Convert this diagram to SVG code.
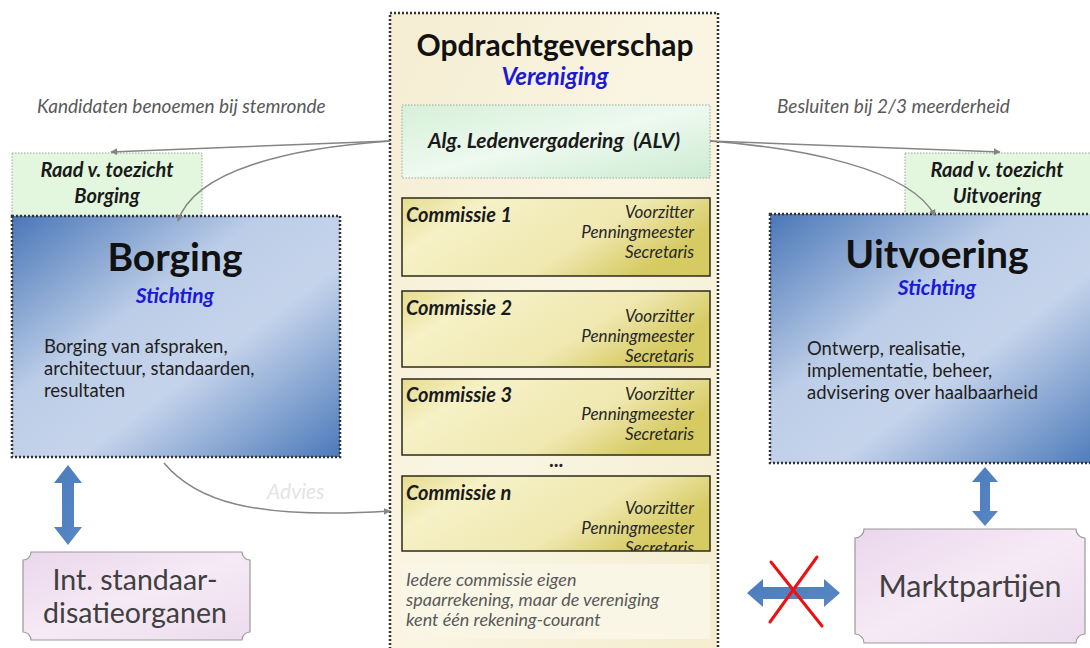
<svg xmlns="http://www.w3.org/2000/svg" width="1090" height="648" viewBox="0 0 1090 648">
<defs>
<linearGradient id="gBlue" x1="0" y1="0" x2="1" y2="1">
<stop offset="0" stop-color="#4a77b8"/><stop offset="0.38" stop-color="#bccde7"/><stop offset="0.6" stop-color="#c6d4eb"/><stop offset="1" stop-color="#4c7aba"/>
</linearGradient>
<linearGradient id="gCom" x1="0" y1="0" x2="1" y2="0.4">
<stop offset="0" stop-color="#e6dc8e"/><stop offset="0.25" stop-color="#f6f1c6"/><stop offset="0.7" stop-color="#efe8b0"/><stop offset="1" stop-color="#d6ca62"/>
</linearGradient>
<linearGradient id="gCont" x1="0" y1="0" x2="1" y2="1">
<stop offset="0" stop-color="#f5edd2"/><stop offset="0.5" stop-color="#faf5e3"/><stop offset="1" stop-color="#f4edcf"/>
</linearGradient>
<linearGradient id="gAlv" x1="0" y1="0" x2="1" y2="1">
<stop offset="0" stop-color="#d6f0d8"/><stop offset="0.5" stop-color="#eef9ef"/><stop offset="1" stop-color="#ccebd2"/>
</linearGradient>
<linearGradient id="gPink" x1="0" y1="0" x2="1" y2="1">
<stop offset="0" stop-color="#ead6ec"/><stop offset="0.5" stop-color="#f6eaf5"/><stop offset="1" stop-color="#ecdcee"/>
</linearGradient>
<linearGradient id="gArr" x1="0" y1="0" x2="1" y2="1">
<stop offset="0" stop-color="#4a7bbd"/><stop offset="1" stop-color="#5a88c4"/>
</linearGradient>
<marker id="ah" viewBox="0 0 10 10" refX="9" refY="5" markerWidth="7" markerHeight="7" orient="auto-start-reverse" markerUnits="userSpaceOnUse">
<path d="M0,0 L10,5 L0,10 z" fill="#858585"/>
</marker>
<clipPath id="clipN"><rect x="402" y="476" width="308" height="75"/></clipPath>
</defs>
<style>
.f{font-family:Lato,"Open Sans","Liberation Sans",sans-serif}
.it{font-style:italic}
.b{font-weight:bold}
.gray{fill:#595959}
.blue{fill:#1a1ad6}
.com{fill:url(#gCom);stroke:#2b2b1a;stroke-width:1.5}
.role{font-family:Lato,"Open Sans","Liberation Sans",sans-serif;font-style:italic;font-size:17px;fill:#262626;text-anchor:end}
.cname{font-family:Lato,"Open Sans","Liberation Sans",sans-serif;font-style:italic;font-weight:bold;font-size:20px;fill:#1a1a1a}
.raadt{font-family:Lato,"Open Sans","Liberation Sans",sans-serif;font-style:italic;font-weight:bold;font-size:20px;fill:#1a1a1a;text-anchor:middle}
.body{font-family:Lato,"Open Sans","Liberation Sans",sans-serif;font-size:18.5px;fill:#1f1f1f}
.conn{fill:none;stroke:#858585;stroke-width:1.5}
.dots{stroke:#333;stroke-width:2.5;stroke-dasharray:2 2}
.raad{fill:#e3f7df;stroke:#9aa99a;stroke-width:1;stroke-dasharray:1.5 1.5}
.plaque{fill:url(#gPink);stroke:#9a9a9a;stroke-width:1.2}
.barrow{fill:url(#gArr)}
.pre{white-space:pre}
</style>
<rect width="1090" height="648" fill="#ffffff"/>

<g id="opdrachtgeverschap">
<rect x="390" y="13" width="328" height="640" fill="url(#gCont)" class="dots"/>
<text x="555" y="56" text-anchor="middle" class="f b" font-size="30" fill="#111">Opdrachtgeverschap</text>
<text x="555" y="85" text-anchor="middle" class="f b it blue" font-size="24">Vereniging</text>
</g>

<g id="alv">
<rect x="402" y="105" width="308" height="73" fill="url(#gAlv)" stroke="#9aa99a" stroke-width="1" stroke-dasharray="1.5 1.5"/>
<text x="554" y="148" text-anchor="middle" class="f b it pre" font-size="21" fill="#1a1a1a">Alg. Ledenvergadering  (ALV)</text>
</g>

<g id="commissie1">
<rect x="402" y="198" width="308" height="78" class="com"/>
<text x="406" y="222" class="cname">Commissie 1</text>
<text x="694" y="218" class="role">Voorzitter</text>
<text x="694" y="238" class="role">Penningmeester</text>
<text x="694" y="258" class="role">Secretaris</text>
</g>
<g id="commissie2">
<rect x="402" y="291" width="308" height="76" class="com"/>
<text x="406" y="315" class="cname">Commissie 2</text>
<text x="694" y="322" class="role">Voorzitter</text>
<text x="694" y="342" class="role">Penningmeester</text>
<text x="694" y="362" class="role">Secretaris</text>
</g>
<g id="commissie3">
<rect x="402" y="379" width="308" height="76" class="com"/>
<text x="406" y="402" class="cname">Commissie 3</text>
<text x="694" y="400" class="role">Voorzitter</text>
<text x="694" y="420" class="role">Penningmeester</text>
<text x="694" y="440" class="role">Secretaris</text>
</g>
<g id="ellipsis">
<text x="556" y="467" text-anchor="middle" class="f b" font-size="20" fill="#222">...</text>
</g>
<g id="commissien">
<rect x="402" y="476" width="308" height="75" fill="url(#gCom)"/>
<g clip-path="url(#clipN)">
<text x="406" y="500" class="cname">Commissie n</text>
<text x="694" y="514" class="role">Voorzitter</text>
<text x="694" y="534" class="role">Penningmeester</text>
<text x="694" y="554" class="role">Secretaris</text>
</g>
<rect x="402" y="476" width="308" height="75" fill="none" stroke="#2b2b1a" stroke-width="1.5"/>
</g>

<g id="rekening">
<rect x="402" y="564" width="308" height="75" fill="#faf6e6"/>
<text class="f it gray" font-size="18">
<tspan x="406" y="586">Iedere commissie eigen</tspan>
<tspan x="406" y="606">spaarrekening, maar de vereniging</tspan>
<tspan x="406" y="626">kent één rekening-courant</tspan>
</text>
</g>

<g id="raad-borging">
<rect x="12" y="153" width="190" height="63" class="raad"/>
<text x="107" y="177" class="raadt">Raad v. toezicht</text>
<text x="107" y="203" class="raadt">Borging</text>
</g>

<g id="borging">
<rect x="12" y="216" width="328" height="241" fill="url(#gBlue)" class="dots"/>
<text x="175" y="271" text-anchor="middle" class="f b" font-size="39" fill="#111">Borging</text>
<text x="175" y="303" text-anchor="middle" class="f b it blue" font-size="21">Stichting</text>
<text class="body">
<tspan x="44" y="353">Borging van afspraken,</tspan>
<tspan x="44" y="375">architectuur, standaarden,</tspan>
<tspan x="44" y="397">resultaten</tspan>
</text>
</g>

<g id="raad-uitvoering">
<rect x="905" y="153" width="190" height="63" class="raad"/>
<text x="997" y="177" class="raadt">Raad v. toezicht</text>
<text x="997" y="203" class="raadt">Uitvoering</text>
</g>

<g id="uitvoering">
<rect x="770" y="214" width="330" height="249" fill="url(#gBlue)" class="dots"/>
<text x="937" y="268" text-anchor="middle" class="f b" font-size="39" fill="#111">Uitvoering</text>
<text x="937" y="295" text-anchor="middle" class="f b it blue" font-size="21">Stichting</text>
<text class="body">
<tspan x="807" y="355">Ontwerp, realisatie,</tspan>
<tspan x="807" y="377">implementatie, beheer,</tspan>
<tspan x="807" y="399">advisering over haalbaarheid</tspan>
</text>
</g>

<g id="standaardisatie">
<path class="plaque" d="M31,552 L242,552 A8,8 0 0 0 250,560 L250,632 A8,8 0 0 0 242,640 L31,640 A8,8 0 0 0 23,632 L23,560 A8,8 0 0 0 31,552 Z"/>
<text x="135" y="590" text-anchor="middle" class="f" font-size="28.5" fill="#404040">Int. standaar-</text>
<text x="135" y="623" text-anchor="middle" class="f" font-size="28.5" fill="#404040">disatieorganen</text>
</g>

<g id="marktpartijen">
<path class="plaque" d="M864,529 L1076,529 A9,9 0 0 0 1085,538 L1085,634 A9,9 0 0 0 1076,643 L864,643 A9,9 0 0 0 855,634 L855,538 A9,9 0 0 0 864,529 Z"/>
<text x="970" y="597" text-anchor="middle" class="f" font-size="30.5" fill="#404040">Marktpartijen</text>
</g>

<g id="labels">
<text x="37" y="113" class="f it gray" font-size="19">Kandidaten benoemen bij stemronde</text>
<text x="777" y="113" class="f it gray" font-size="19">Besluiten bij 2/3 meerderheid</text>
<text x="267" y="499" class="f it" font-size="21" fill="#e4e4e4">Advies</text>
</g>

<g id="connectors">
<path class="conn" d="M390,141 L111,152" marker-end="url(#ah)"/>
<path class="conn" d="M390,141 C290,148 195,170 178,221" marker-end="url(#ah)"/>
<path class="conn" d="M710,141 L1000,152" marker-end="url(#ah)"/>
<path class="conn" d="M710,141 C800,148 910,168 935,216" marker-end="url(#ah)"/>
<path class="conn" d="M164,463 C195,500 250,520 390,511" marker-end="url(#ah)"/>
<polygon class="barrow" points="68,465 82,483 74,483 74,527 82,527 68,545 54,527 62,527 62,483 54,483"/>
<polygon class="barrow" points="985,467 998,482 990,482 990,511 998,511 985,526 972,511 980,511 980,482 972,482"/>
<polygon class="barrow" points="747,593 763,579 763,587 824,587 824,579 840,593 824,607 824,599 763,599 763,607"/>
<g stroke="#ee1111" stroke-width="3" stroke-linecap="round">
<line x1="771" y1="562" x2="822" y2="626"/>
<line x1="817" y1="557" x2="770" y2="622"/>
</g>
</g>
</svg>
